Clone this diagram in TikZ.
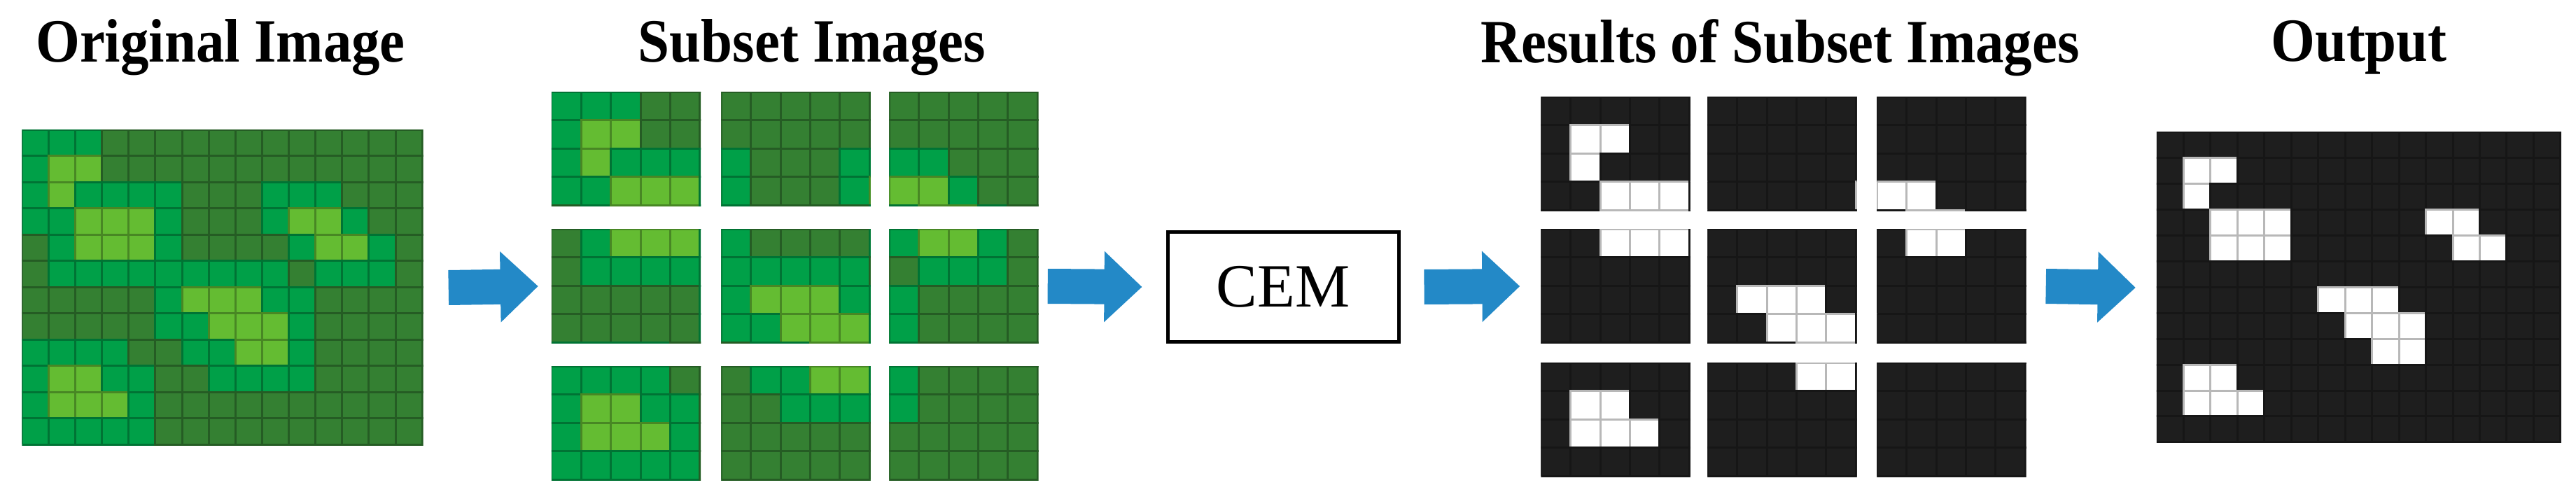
\documentclass[tikz,border=0pt]{standalone}
\usepackage{fontspec}
\setmainfont{Liberation Serif}
\usetikzlibrary{positioning,arrows.meta}

\definecolor{gD}{RGB}{52,128,50}
\definecolor{gM}{RGB}{0,160,72}
\definecolor{gL}{RGB}{100,188,50}
\definecolor{bD}{RGB}{30,30,30}
\definecolor{bL}{RGB}{255,255,255}
\definecolor{arrowblue}{RGB}{35,137,199}

% D dark, M medium, L light cells of the 15x12 scene
\def\landpattern{{M,M,M,D,D,D,D,D,D,D,D,D,D,D,D},
{M,L,L,D,D,D,D,D,D,D,D,D,D,D,D},
{M,L,M,M,M,M,D,D,D,M,M,M,D,D,D},
{M,M,L,L,L,M,D,D,D,M,L,L,M,D,D},
{D,M,L,L,L,M,D,D,D,D,M,L,L,M,D},
{D,M,M,M,M,M,M,M,M,M,D,M,M,M,D},
{D,D,D,D,D,M,L,L,L,M,M,D,D,D,D},
{D,D,D,D,D,M,M,L,L,L,M,D,D,D,D},
{M,M,M,M,D,D,M,M,L,L,M,D,D,D,D},
{M,L,L,M,M,D,D,M,M,M,M,D,D,D,D},
{M,L,L,L,M,D,D,D,D,D,D,D,D,D,D},
{M,M,M,M,M,D,D,D,D,D,D,D,D,D,D}}

\newcommand\greencells{\colorlet{cD}{gD}\colorlet{cM}{gM}\colorlet{cL}{gL}}
\newcommand\maskcells{\colorlet{cD}{bD}\colorlet{cM}{bD}\colorlet{cL}{bL}}

% #1 node, #2 first col, #3 first row, #4 cell width, #5 cell height
\newcommand\pixelgrid[5]{%
  \begin{scope}
    \clip (#1.north west) rectangle (#1.south east);
    \foreach \row [count=\r from 0] in \landpattern {
      \foreach \c [count=\k from 0] in \row {
        \path[cell, fill=c\c, draw=c\c!72!black]
          ([xshift={(\k-#2)*#4}, yshift={-(\r-#3)*#5}]#1.north west)
          rectangle ++(#4,-#5);
      }
    }
  \end{scope}}

\begin{document}
\begin{tikzpicture}[x=1cm,y=1cm,
  tile/.style={inner sep=0pt, minimum width=2.12cm, minimum height=1.62cm},
  cell/.style={line width=0.03cm},
  title/.style={font=\fontsize{25}{27}\selectfont\bfseries, inner sep=0pt, xscale=0.92},
  flow/.style={line width=0.5cm, draw=arrowblue, -{Triangle[width=0.98cm,length=0.54cm]}}]
  \useasboundingbox (0,0) rectangle (36.8,-7.13);

  % titles
  \node[title] (torig) at (3.15,-0.68) {Original Image};
  \node[title] (tsub) at (11.6,-0.68) {Subset Images};
  \node[title] (tres) at (25.43,-0.68) {Results of Subset Images};
  \node[title] (tout) at (33.7,-0.68) {Output};

  % images
  \node[inner sep=0pt, minimum width=5.72cm, minimum height=4.5cm] (orig) at (3.18,-4.11) {};
  \node[inner sep=0pt, minimum width=5.77cm, minimum height=4.43cm] (out) at (33.7,-4.11) {};
  \foreach \i/\y in {0/2.13,1/4.09,2/6.05}
    \foreach \j/\x in {0/8.945,1/11.37,2/13.77}
      \node[tile] (sub\i\j) at (\x,-\y) {};
  \foreach \i/\y in {0/2.20,1/4.09,2/6.00}
    \foreach \j/\x in {0/23.08,1/25.46,2/27.88}
      \node[tile] (res\i\j) at (\x,-\y) {};
  \node[draw, line width=0.05cm, minimum width=3.3cm, minimum height=1.57cm,
    font=\fontsize{25}{27}\selectfont] (cem) at (18.33,-4.10) {CEM};

  \greencells
  \pixelgrid{orig}{0}{0}{0.3813cm}{0.375cm}
  \foreach \i in {0,1,2}
    \foreach \j in {0,1,2} {
      \pgfmathtruncatemacro\cc{5*\j}
      \pgfmathtruncatemacro\rr{4*\i}
      \pixelgrid{sub\i\j}{\cc}{\rr}{0.424cm}{0.405cm}
    }
  \maskcells
  \pixelgrid{out}{0}{0}{0.3847cm}{0.3692cm}
  \foreach \i in {0,1,2}
    \foreach \j in {0,1,2} {
      \pgfmathtruncatemacro\cc{5*\j}
      \pgfmathtruncatemacro\rr{4*\i}
      \pixelgrid{res\i\j}{\cc}{\rr}{0.424cm}{0.405cm}
    }

  % arrows
  \draw[flow] ([xshift=0.36cm]orig.east) -- ([xshift=-0.19cm]sub10.west);
  \draw[flow] ([xshift=0.13cm]sub12.east) -- ([xshift=-0.34cm]cem.west);
  \draw[flow] ([xshift=0.34cm]cem.east) -- ([xshift=-0.3cm]res10.west);
  \draw[flow] ([xshift=0.28cm]res12.east) -- ([xshift=-0.3cm]out.west);
\end{tikzpicture}
\end{document}
